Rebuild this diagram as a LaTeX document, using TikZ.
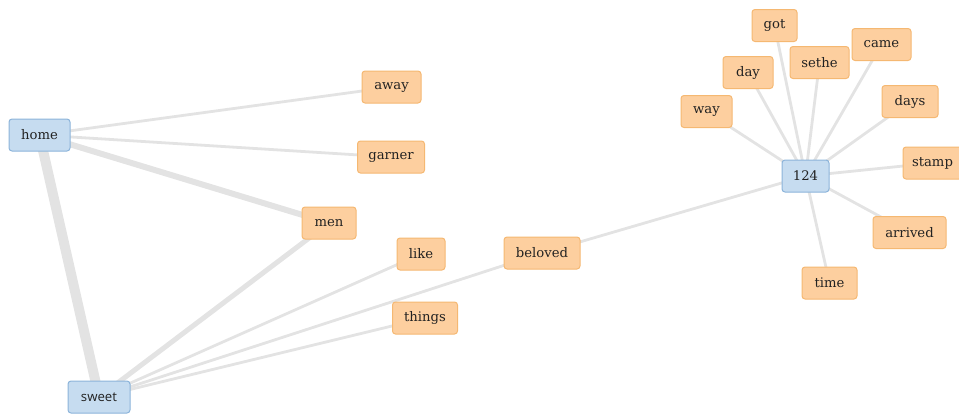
\documentclass[tikz,border=0pt]{standalone}
\usepackage{fontspec}
\usetikzlibrary{backgrounds}
\setmainfont{DejaVu Serif}
\newfontfamily\wordsans{Open Sans}
\definecolor{hubfill}{HTML}{C6DCF0}
\definecolor{hubline}{HTML}{8CB4DA}
\definecolor{leaffill}{HTML}{FDCF9F}
\definecolor{leafline}{HTML}{F5B872}
\definecolor{linkgray}{HTML}{E3E3E3}
\definecolor{wordink}{HTML}{222222}
\tikzset{
  x=1pt, y=-1pt,
  word/.style={rounded corners=3pt, line width=1pt, minimum height=32pt,
    inner sep=0pt, text=wordink, font=\fontsize{13.2}{15}\selectfont},
  hub/.style={word, draw=hubline, fill=hubfill},
  leaf/.style={word, draw=leafline, fill=leaffill},
  link/.style={draw=linkgray, line width=2.8pt},
  midlink/.style={draw=linkgray, line width=5pt},
  heavylink/.style={draw=linkgray, line width=10pt}
}
\begin{document}
\begin{tikzpicture}
\useasboundingbox (0,0) rectangle (959,416);
% hub words
\node[hub, minimum width=61pt] (home) at (39.5,135) {home};
\node[hub, minimum width=62pt, font=\wordsans\fontsize{13.2}{15}\selectfont] (sweet) at (99,397) {sweet};
\node[hub, minimum width=47pt] (n124) at (805.5,176) {124};
% words linked to home / sweet
\node[leaf, minimum width=59pt] (away) at (391.5,87) {away};
\node[leaf, minimum width=67pt] (garner) at (391,157) {garner};
\node[leaf, minimum width=54pt] (men) at (329,223) {men};
\node[leaf, minimum width=48pt] (like) at (421,254) {like};
\node[leaf, minimum width=76pt] (beloved) at (542,253) {beloved};
\node[leaf, minimum width=65pt] (things) at (425,318) {things};
% words linked to 124
\node[leaf, minimum width=45pt] (got) at (774.5,25.5) {got};
\node[leaf, minimum width=50pt] (day) at (748,72.5) {day};
\node[leaf, minimum width=59pt] (sethe) at (819.5,62.5) {sethe};
\node[leaf, minimum width=59pt] (came) at (881.5,44.5) {came};
\node[leaf, minimum width=51pt] (way) at (706.5,111.5) {way};
\node[leaf, minimum width=56pt] (days) at (910,101.5) {days};
\node[leaf, minimum width=59pt] (stamp) at (932.5,163) {stamp};
\node[leaf, minimum width=73pt] (arrived) at (909.5,232.5) {arrived};
\node[leaf, minimum width=55pt] (time) at (829.5,283) {time};
% links, drawn behind the words, centre to centre
\begin{scope}[on background layer]
  \draw[heavylink] (home.center) -- (sweet.center);
  \draw[midlink, line width=6pt] (home.center) -- (men.center);
  \draw[midlink] (sweet.center) -- (men.center);
  \draw[link] (home.center) -- (away.center);
  \draw[link] (home.center) -- (garner.center);
  \draw[link] (sweet.center) -- (like.center);
  \draw[link] (sweet.center) -- (things.center);
  \draw[link] (sweet.center) -- (beloved.center);
  \draw[link] (beloved.center) -- (n124.center);
  \foreach \w in {got,day,sethe,came,way,days,stamp,arrived,time}
    \draw[link] (n124.center) -- (\w.center);
\end{scope}
\end{tikzpicture}
\end{document}
